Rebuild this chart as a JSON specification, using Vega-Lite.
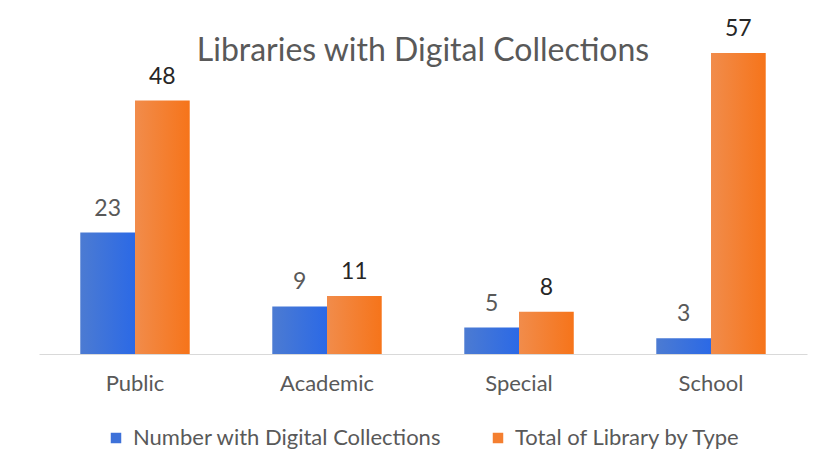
{
  "$schema": "https://vega.github.io/schema/vega-lite/v6.json",
  "width": 768,
  "height": 301,
  "autosize": {"type": "none"},
  "padding": {"left": 39, "top": 53, "right": 19, "bottom": 121},
  "background": "white",
  "title": {
    "text": "Libraries with Digital Collections",
    "font": "Lato",
    "fontSize": 32,
    "fontWeight": "normal",
    "color": "#595959",
    "anchor": "middle",
    "offset": -50
  },
  "config": {"view": {"stroke": null}},
  "data": {
    "values": [
      {"type": "Public", "series": "Number with Digital Collections", "value": 23},
      {"type": "Public", "series": "Total of Library by Type", "value": 48},
      {"type": "Academic", "series": "Number with Digital Collections", "value": 9},
      {"type": "Academic", "series": "Total of Library by Type", "value": 11},
      {"type": "Special", "series": "Number with Digital Collections", "value": 5},
      {"type": "Special", "series": "Total of Library by Type", "value": 8},
      {"type": "School", "series": "Number with Digital Collections", "value": 3},
      {"type": "School", "series": "Total of Library by Type", "value": 57}
    ]
  },
  "encoding": {
    "x": {
      "field": "type",
      "type": "nominal",
      "sort": ["Public", "Academic", "Special", "School"],
      "scale": {"paddingInner": 0.43, "paddingOuter": 0.215},
      "title": null,
      "axis": {
        "labelAngle": 0,
        "labelFont": "Lato",
        "labelFontSize": 22,
        "labelColor": "#595959",
        "labelPadding": 19,
        "ticks": false,
        "grid": false,
        "domainColor": "#d9d9d9",
        "domainWidth": 1
      }
    },
    "xOffset": {
      "field": "series",
      "type": "nominal",
      "sort": ["Number with Digital Collections", "Total of Library by Type"]
    },
    "y": {
      "field": "value",
      "type": "quantitative",
      "scale": {"domain": [0, 57], "nice": false},
      "axis": null
    }
  },
  "layer": [
    {
      "mark": {"type": "bar"},
      "encoding": {
        "fill": {
          "condition": {
            "test": "datum.series === 'Total of Library by Type'",
            "value": {"gradient": "linear", "x1": 0, "y1": 0, "x2": 1, "y2": 0, "stops": [{"offset": 0, "color": "#f18c4b"}, {"offset": 1, "color": "#f6741a"}]}
          },
          "value": {"gradient": "linear", "x1": 0, "y1": 0, "x2": 1, "y2": 0, "stops": [{"offset": 0, "color": "#4c7bd2"}, {"offset": 1, "color": "#2b69e6"}]}
        }
      }
    },
    {
      "mark": {"type": "square", "opacity": 0},
      "encoding": {
        "color": {
          "field": "series",
          "type": "nominal",
          "title": null,
          "scale": {
            "domain": ["Number with Digital Collections", "Total of Library by Type"],
            "range": ["#3d71d9", "#f47f30"]
          },
          "legend": {
            "orient": "none",
            "legendX": 66,
            "legendY": 374,
            "direction": "horizontal",
            "symbolType": "square",
            "symbolSize": 110,
            "symbolOpacity": 1,
            "symbolStrokeWidth": 0,
            "labelFont": "Lato",
            "labelFontSize": 22,
            "labelColor": "#595959",
            "labelLimit": 0,
            "labelOffset": 6,
            "columnPadding": 45
          }
        }
      }
    },
    {
      "mark": {"type": "text", "baseline": "alphabetic", "dy": -17, "font": "Lato", "fontSize": 23},
      "encoding": {
        "text": {"field": "value", "type": "quantitative"},
        "color": {
          "condition": {"test": "datum.series === 'Total of Library by Type'", "value": "#262626"},
          "value": "#595959"
        }
      }
    }
  ]
}
